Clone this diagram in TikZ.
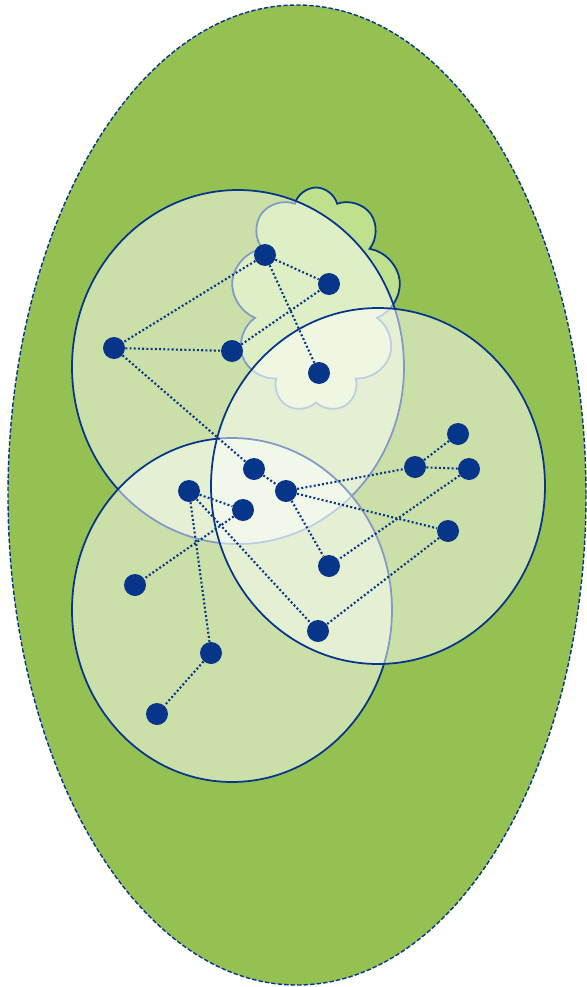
\documentclass[tikz,border=0pt]{standalone}
\usetikzlibrary{shapes.symbols}
\definecolor{leaf}{HTML}{95C152}
\definecolor{navy}{HTML}{06358A}
\definecolor{puff}{HTML}{BFE08C}
\begin{document}
\begin{tikzpicture}[x=0.02cm, y=-0.02cm,
        dot/.style={circle, fill=navy, minimum size=0.44cm, inner sep=0pt},
        link/.style={navy, line width=1.2pt, dash pattern=on 1.1pt off 1.3pt},
        zone/.style={fill=white, fill opacity=0.5, draw=navy, line width=1pt}]
        \useasboundingbox (0,0) rectangle (587,987);
        \draw[fill=leaf, draw=navy, line width=0.8pt, dash pattern=on 2.5pt off 1.2pt] (297,495) ellipse [x radius=289, y radius=490];
        \node[cloud, cloud puffs=9, cloud ignores aspect, minimum width=3.4cm, minimum height=4.5cm, draw=navy, fill=puff, line width=1pt] (cl) at (316,300) {};
        \draw[zone] (238,367) ellipse [x radius=166, y radius=177];
        \draw[zone] (232,610) ellipse [x radius=160, y radius=172];
        \draw[zone] (378,486) ellipse [x radius=167, y radius=178];
        \node[dot] (1) at (265,255) {};
        \node[dot] (2) at (329,284) {};
        \node[dot] (3) at (114,348) {};
        \node[dot] (4) at (232,351) {};
        \node[dot] (5) at (319,373) {};
        \node[dot] (6) at (458,434) {};
        \node[dot] (7) at (415,467) {};
        \node[dot] (8) at (469,469) {};
        \node[dot] (9) at (254,469) {};
        \node[dot] (10) at (189,491) {};
        \node[dot] (11) at (286,491) {};
        \node[dot] (12) at (243,510) {};
        \node[dot] (13) at (448,531) {};
        \node[dot] (14) at (135,585) {};
        \node[dot] (15) at (329,566) {};
        \node[dot] (16) at (318,631) {};
        \node[dot] (17) at (211,653) {};
        \node[dot] (18) at (157,714) {};
        \draw[link] (1) -- (2);
        \draw[link] (1) -- (3);
        \draw[link] (1) -- (5);
        \draw[link] (3) -- (4);
        \draw[link] (4) -- (2);
        \draw[link] (3) -- (9);
        \draw[link] (9) -- (11);
        \draw[link] (10) -- (12);
        \draw[link] (11) -- (7);
        \draw[link] (11) -- (13);
        \draw[link] (11) -- (15);
        \draw[link] (7) -- (6);
        \draw[link] (7) -- (8);
        \draw[link] (8) -- (15);
        \draw[link] (13) -- (16);
        \draw[link] (10) -- (16);
        \draw[link] (10) -- (17);
        \draw[link] (12) -- (14);
        \draw[link] (17) -- (18);
    \end{tikzpicture}
\end{document}
